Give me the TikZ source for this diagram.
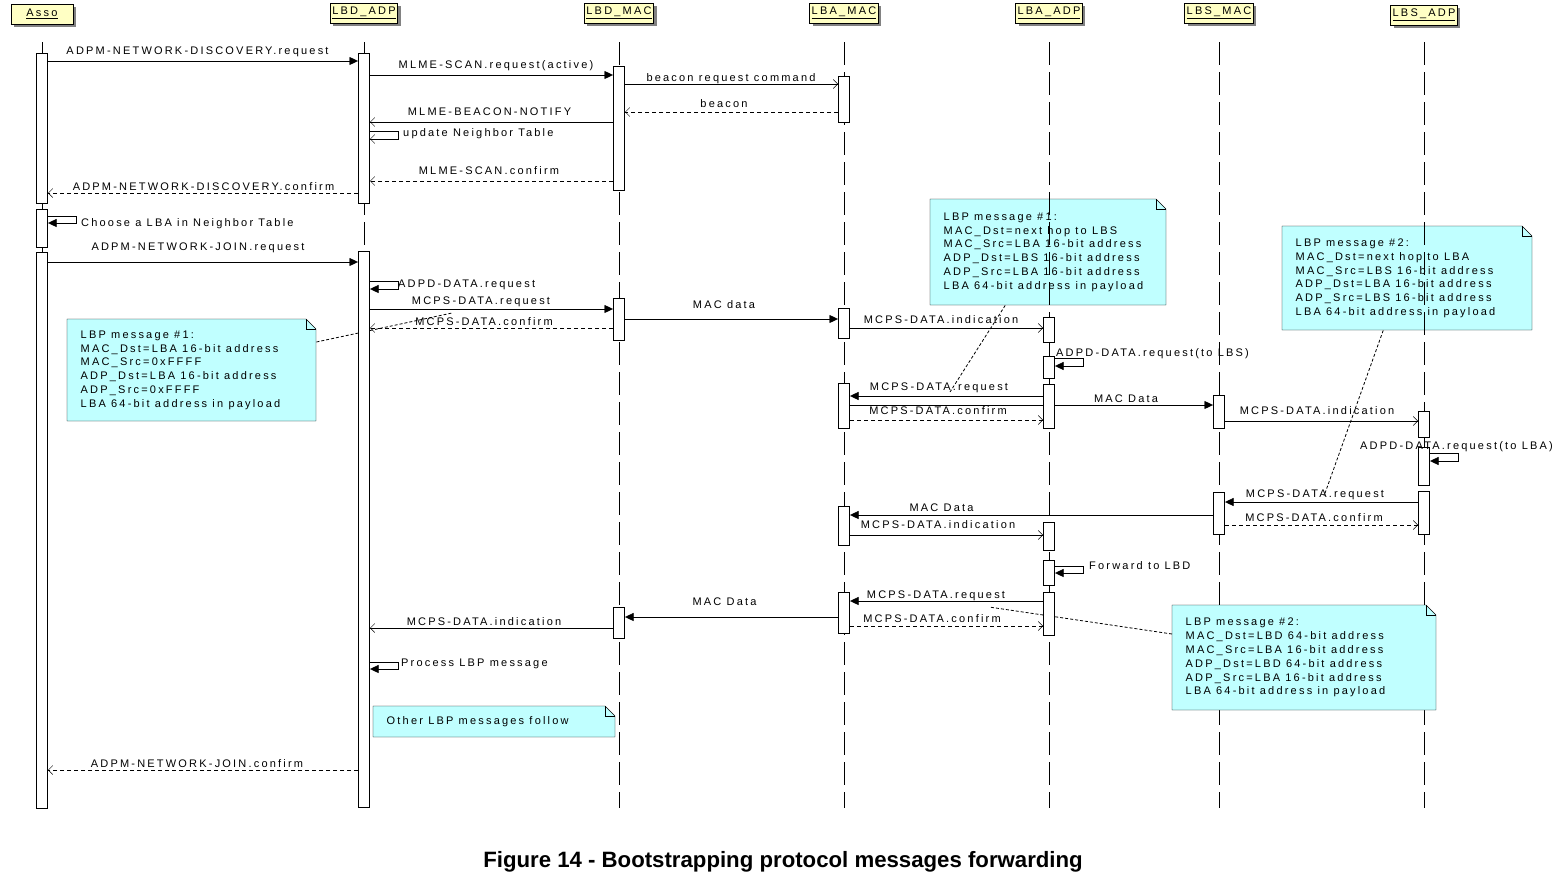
\documentclass[tikz,border=0pt]{standalone}
\usepackage{fontspec}
\setmainfont{Liberation Sans}
\newfontfamily\msgfont{Liberation Sans}[LetterSpace=20]
\newfontfamily\capfont{Liberation Sans}
\usepackage{xcolor}
\definecolor{headyellow}{RGB}{255,255,196}
\definecolor{notecyan}{RGB}{192,255,255}
\definecolor{shadowgray}{RGB}{130,130,130}
\usepackage{tikz}
\usetikzlibrary{positioning}
\usetikzlibrary{arrows.meta,shadows}
\pgfdeclarelayer{bottom}
\pgfdeclarelayer{middle}
\pgfsetlayers{bottom,middle,main}

\begin{document}
\begin{tikzpicture}[x=1pt,y=-1pt,line width=1pt,
  every node/.style={font={\msgfont\fontsize{11}{13.8}\selectfont}},
  head/.style={draw,fill=headyellow,minimum width=62pt,minimum height=20pt,inner xsep=2pt,inner ysep=1pt,
    drop shadow={shadow xshift=3pt,shadow yshift=-3pt,fill=shadowgray,opacity=1}},
  life/.style={dash pattern=on 23pt off 7pt},
  actbar/.style={draw,fill=white,minimum width=11pt,inner sep=0pt,anchor=north},
  call/.style={-{Triangle[length=8.5pt,width=8pt]}},
  async/.style={-{Straight Barb[length=4.5pt,width=9pt]}},
  reply/.style={async,dash pattern=on 4pt off 3pt},
  msg/.style={anchor=base,inner sep=0pt},
  notepaper/.style={draw,fill=notecyan},
  notetext/.style={align=left,inner xsep=13.5pt,inner ysep=0pt,anchor=north west,
    execute at begin node={\spaceskip=0pt\xspaceskip=0pt\relax}},
  noteline/.style={line width=0.8pt,dash pattern=on 3pt off 2pt}]
\useasboundingbox (0,0) rectangle (1554,878);

% lifeline heads
\node[head] (asso) at (42,14) {\underline{Asso}};
\node[head] (lbdadp) at (364,13) {\underline{LBD\_ADP}};
\node[head] (lbdmac) at (619,13) {\underline{LBD\_MAC}};
\node[head] (lbamac) at (844,13) {\underline{LBA\_MAC}};
\node[head] (lbaadp) at (1049,13) {\underline{LBA\_ADP}};
\node[head] (lbsmac) at (1219,13) {\underline{LBS\_MAC}};
\node[head] (lbsadp) at (1424,15) {\underline{LBS\_ADP}};

% activation bars
\foreach \n/\h/\t/\b in {as1/asso/53/203, as2/asso/209/247, as3/asso/252/808,
    bda1/lbdadp/53/203, bda2/lbdadp/251/807,
    bdm1/lbdmac/66/190, bdm2/lbdmac/298/340, bdm3/lbdmac/607/638,
    bam1/lbamac/76/122, bam2/lbamac/308/338, bam3/lbamac/383/428, bam4/lbamac/506/545, bam5/lbamac/592/633,
    baa1/lbaadp/317/342, baa2/lbaadp/356/378, baa3/lbaadp/384/428, baa4/lbaadp/522/550, baa5/lbaadp/560/585, baa6/lbaadp/592/635,
    bsm1/lbsmac/395/428, bsm2/lbsmac/492/534,
    bsa1/lbsadp/411/437, bsa2/lbsadp/447/485, bsa3/lbsadp/491/534}
  \node[actbar,minimum height={\b-\t}] (\n) at (\h |- 0,\t) {};

\begin{pgfonlayer}{bottom}
% notes behind the lifelines
\filldraw[notepaper] (930,199) -- ++(226,0) -- ++(10,10) |- ++(-236,96) -- cycle;
\draw (1156,199) |- (1166,209);
\node[notetext,minimum width=236pt,minimum height=106pt,text width=209pt] (n2) at (930,199) {LBP message \#1:\\MAC\_Dst=next hop to LBS\\MAC\_Src=LBA 16-bit address\\ADP\_Dst=LBS 16-bit address\\ADP\_Src=LBA 16-bit address\\LBA 64-bit address in payload};
\filldraw[notepaper] (1282,226) -- ++(240,0) -- ++(10,10) |- ++(-250,94) -- cycle;
\draw (1522,226) |- (1532,236);
\node[notetext,minimum width=250pt,minimum height=104pt,text width=223pt] (n3) at (1282,226) {LBP message \#2:\\MAC\_Dst=next hop to LBA\\MAC\_Src=LBS 16-bit address\\ADP\_Dst=LBA 16-bit address\\ADP\_Src=LBS 16-bit address\\LBA 64-bit address in payload};
% lifelines
\draw (asso |- 0,42) -- (asso |- 0,808);
\foreach \h in {lbdadp,lbdmac,lbamac,lbaadp,lbsmac,lbsadp}
  \draw[life] (\h |- 0,42) -- (\h |- 0,808);
\end{pgfonlayer}

\begin{pgfonlayer}{middle}
% notes over the lifelines
\filldraw[notepaper] (67,319) -- ++(239,0) -- ++(10,10) |- ++(-249,92) -- cycle;
\draw (306,319) |- (316,329);
\node[notetext,minimum width=249pt,minimum height=102pt,text width=222pt] (n1) at (67,319) {LBP message \#1:\\MAC\_Dst=LBA 16-bit address\\MAC\_Src=0xFFFF\\ADP\_Dst=LBA 16-bit address\\ADP\_Src=0xFFFF\\LBA 64-bit address in payload};
\filldraw[notepaper] (1172,605) -- ++(254,0) -- ++(10,10) |- ++(-264,95) -- cycle;
\draw (1426,605) |- (1436,615);
\node[notetext,minimum width=264pt,minimum height=105pt,text width=237pt] (n4) at (1172,605) {LBP message \#2:\\MAC\_Dst=LBD 64-bit address\\MAC\_Src=LBA 16-bit address\\ADP\_Dst=LBD 64-bit address\\ADP\_Src=LBA 16-bit address\\LBA 64-bit address in payload};
\filldraw[notepaper] (373,706) -- ++(232,0) -- ++(10,10) |- ++(-242,21) -- cycle;
\draw (605,706) |- (615,716);
\node[notetext,minimum width=242pt,minimum height=31pt,text width=215pt] (n5) at (373,706) {Other LBP messages follow};

% note links
\coordinate (c1) at (452,313);
\coordinate (c2) at (950,392);
\coordinate (c3) at (1324,496);
\coordinate (c4) at (989,607);
\draw[noteline] (n1.east |- 0,342) -- (c1);
\draw[noteline] ([xshift=-43pt]n2.south) -- (c2);
\draw[noteline] ([xshift=-24pt]n3.south) -- (c3);
\draw[noteline] (n4.west |- 0,634) -- (c4);

% messages
\draw[call] (as1.east |- 0,61) -- (bda1.west |- 0,61);
\draw[call] (bda1.east |- 0,75) -- (bdm1.west |- 0,75);
\draw[async] (bdm1.east |- 0,84) -- (bam1.west |- 0,84);
\draw[reply] (bam1.west |- 0,112) -- (bdm1.east |- 0,112);
\draw[async] (bdm1.west |- 0,122) -- (bda1.east |- 0,122);
\draw[async] (bda1.east |- 0,131) -- ++(28,0) |- (bda1.east |- 0,139);
\draw[reply] (bdm1.west |- 0,181) -- (bda1.east |- 0,181);
\draw[reply] (bda1.west |- 0,193) -- (as1.east |- 0,193);
\draw[call] (as2.east |- 0,216) -- ++(28,0) |- (as2.east |- 0,223);
\draw[call] (as3.east |- 0,262) -- (bda2.west |- 0,262);
\draw[call] (bda2.east |- 0,281) -- ++(28,0) |- (bda2.east |- 0,289);
\draw[call] (bda2.east |- 0,309) -- (bdm2.west |- 0,309);
\draw[reply] (bdm2.west |- 0,328) -- (bda2.east |- 0,328);
\draw[call] (bdm2.east |- 0,319) -- (bam2.west |- 0,319);
\draw[async] (bam2.east |- 0,328) -- (baa1.west |- 0,328);
\draw[call] (baa2.east |- 0,358) -- ++(28,0) |- (baa2.east |- 0,366);
\draw[call] (baa3.west |- 0,396) -- (bam3.east |- 0,396);
\draw[reply] (bam3.east |- 0,420) -- (baa3.west |- 0,420);
\draw[call] (bam3.east |- 0,405) -- (bsm1.west |- 0,405);
\draw[async] (bsm1.east |- 0,421) -- (bsa1.west |- 0,421);
\draw[call] (bsa2.east |- 0,453) -- ++(28,0) |- (bsa2.east |- 0,461);
\draw[call] (bsa3.west |- 0,502) -- (bsm2.east |- 0,502);
\draw[call] (bsm2.west |- 0,515) -- (bam4.east |- 0,515);
\draw[reply] (bsm2.east |- 0,525) -- (bsa3.west |- 0,525);
\draw[async] (bam4.east |- 0,535) -- (baa4.west |- 0,535);
\draw[call] (baa5.east |- 0,566) -- ++(28,0) |- (baa5.east |- 0,573);
\draw[call] (baa6.west |- 0,601) -- (bam5.east |- 0,601);
\draw[reply] (bam5.east |- 0,626) -- (baa6.west |- 0,626);
\draw[call] (bam5.west |- 0,617) -- (bdm3.east |- 0,617);
\draw[async] (bdm3.west |- 0,628) -- (bda2.east |- 0,628);
\draw[call] (bda2.east |- 0,662) -- ++(28,0) |- (bda2.east |- 0,669);
\draw[reply] (bda2.west |- 0,770) -- (as3.east |- 0,770);
\end{pgfonlayer}

% message labels
\node[msg] (l1) at (197.5,54.5) {ADPM-NETWORK-DISCOVERY.request};
\node[msg] (l2) at (496,68) {MLME-SCAN.request(active)};
\node[msg] (l3) at (731,81) {beacon request command};
\node[msg] (l4) at (724,107) {beacon};
\node[msg] (l5) at (489.5,115) {MLME-BEACON-NOTIFY};
\node[msg,anchor=base west] (l6) at (403,136) {update Neighbor Table};
\node[msg] (l7) at (489,174) {MLME-SCAN.confirm};
\node[msg] (l8) at (203.5,190) {ADPM-NETWORK-DISCOVERY.confirm};
\node[msg,anchor=base west] (l9) at (81,226) {Choose a LBA in Neighbor Table};
\node[msg] (l10) at (198,250) {ADPM-NETWORK-JOIN.request};
\node[msg,anchor=base west] (l11) at (398,287) {ADPD-DATA.request};
\node[msg] (l12) at (481,304) {MCPS-DATA.request};
\node[msg] (l13) at (484,325) {MCPS-DATA.confirm};
\node[msg] (l14) at (724,308) {MAC data};
\node[msg] (l15) at (941,323) {MCPS-DATA.indication};
\node[msg,anchor=base west] (l16) at (1056,356) {ADPD-DATA.request(to LBS)};
\node[msg] (l17) at (939,390) {MCPS-DATA.request};
\node[msg] (l18) at (938,414) {MCPS-DATA.confirm};
\node[msg] (l19) at (1126,402) {MAC Data};
\node[msg] (l20) at (1317,414) {MCPS-DATA.indication};
\node[msg,anchor=base east] (l21) at (1553,449) {ADPD-DATA.request(to LBA)};
\node[msg] (l22) at (1315,497) {MCPS-DATA.request};
\node[msg] (l23) at (941.5,511) {MAC Data};
\node[msg] (l24) at (1314,521) {MCPS-DATA.confirm};
\node[msg] (l25) at (938,528) {MCPS-DATA.indication};
\node[msg,anchor=base west] (l26) at (1089,569) {Forward to LBD};
\node[msg] (l27) at (936,598) {MCPS-DATA.request};
\node[msg] (l28) at (932,622) {MCPS-DATA.confirm};
\node[msg] (l29) at (724.5,605) {MAC Data};
\node[msg] (l30) at (484,625) {MCPS-DATA.indication};
\node[msg,anchor=base west] (l31) at (401,666) {Process LBP message};
\node[msg] (l32) at (197,767) {ADPM-NETWORK-JOIN.confirm};

% caption
\node[font={\capfont\bfseries\fontsize{22.2}{26}\selectfont}] (caption) at (783,862) {Figure 14 - Bootstrapping protocol messages forwarding};
\end{tikzpicture}
\end{document}
